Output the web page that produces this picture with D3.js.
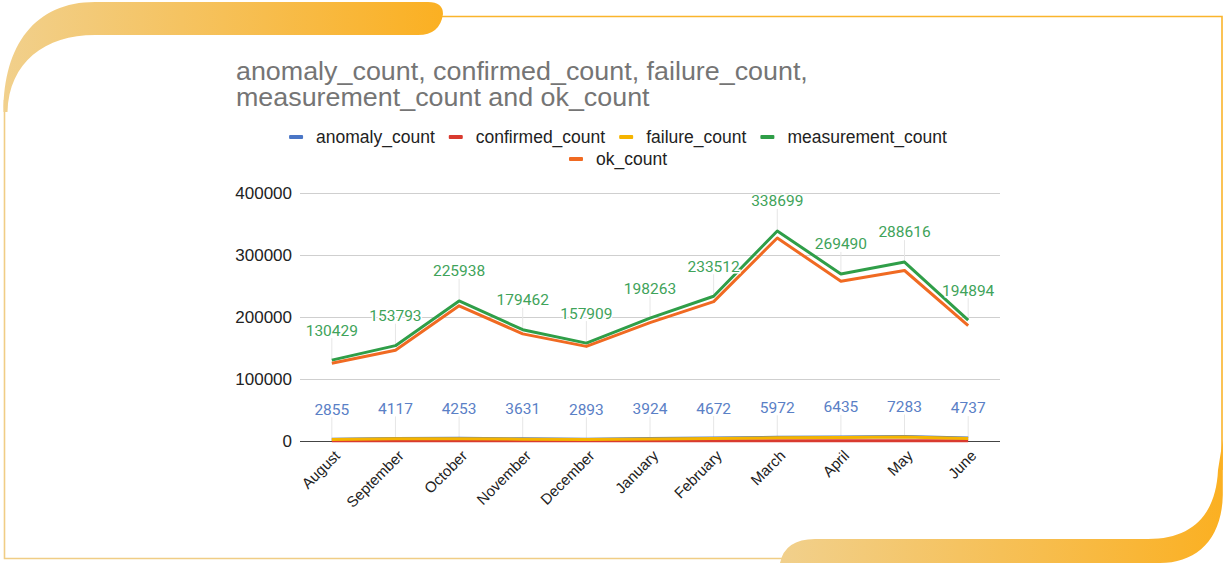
<!DOCTYPE html>
<html>
<head>
<meta charset="utf-8">
<script src="https://cdn.jsdelivr.net/npm/d3@7"></script>
<style>
  html, body { margin: 0; padding: 0; background: #fff; }
  svg { display: block; }
</style>
</head>
<body>
<div id="chart"></div>
<script>
// ===== counts per month, line chart =====

const months = ['August', 'September', 'October', 'November', 'December', 'January',
  'February', 'March', 'April', 'May', 'June'];

const anomalyCount = [2855, 4117, 4253, 3631, 2893, 3924, 4672, 5972, 6435, 7283, 4737];
const confirmedCount = [250, 320, 340, 300, 260, 310, 380, 450, 500, 560, 400];
const failureCount = [2300, 3500, 3600, 3000, 2400, 3300, 4000, 5200, 5600, 6400, 4100];
const measurementCount = [130429, 153793, 225938, 179462, 157909, 198263, 233512, 338699, 269490, 288616, 194894];
const okCount = [125300, 146500, 218000, 172800, 152600, 191000, 224800, 327500, 257500, 275000, 186000];

const seriesNames = ['anomaly_count', 'confirmed_count', 'failure_count', 'measurement_count', 'ok_count'];
const seriesColors = ['#4a76c6', '#d93a2f', '#f5b400', '#2f9e48', '#f06a22'];
const yTicks = [0, 100000, 200000, 300000, 400000];

const titleLines = ['anomaly_count, confirmed_count, failure_count,', 'measurement_count and ok_count'];

const W = 1224, H = 563;
const plot = { left: 300, right: 1000, top: 193, bottom: 441 };
const sansFont = "'Liberation Sans', Arial, sans-serif";
const labelFont = "Roboto, 'Liberation Sans', sans-serif";

const svg = d3.select('#chart').append('svg')
  .attr('width', W)
  .attr('height', H);

// ---- frame decoration ----
const defs = svg.append('defs');
const grad = defs.append('linearGradient')
  .attr('id', 'band-grad').attr('x1', 0).attr('x2', 1).attr('y1', 0).attr('y2', 0);
grad.append('stop').attr('offset', '0%').attr('stop-color', '#f1d08c');
grad.append('stop').attr('offset', '100%').attr('stop-color', '#fbb022');

const frame = svg.append('g').attr('class', 'frame');
// thin border lines
frame.append('path')
  .attr('d', 'M4.5,100 L4.5,558.5 L790,558.5')
  .attr('fill', 'none').attr('stroke', '#f0cd85').attr('stroke-width', 1.6);
frame.append('path')
  .attr('d', 'M440,16.5 L1222,16.5 L1222,470')
  .attr('fill', 'none').attr('stroke', '#fab52c').attr('stroke-width', 1.6);
// top-left band
frame.append('path')
  .attr('d', 'M3.5,112 C3.5,45 35,2 95,2 L428,2 Q443,2 443,14 Q440,35 418,35 L95,35 C45,35 9,62 7.5,112 Z')
  .attr('fill', 'url(#band-grad)');
// bottom-right band
frame.append('path')
  .attr('d', 'M780,563 Q785,539 815,539 L1148,539 C1192,539 1216,515 1218,470 L1222.8,440 L1222.8,495 C1222,540 1196,563 1160,563 Z')
  .attr('fill', 'url(#band-grad)');

// ---- scales ----
const x = d3.scalePoint()
  .domain(months)
  .range([plot.left, plot.right])
  .padding(0.5);

const y = d3.scaleLinear()
  .domain([0, 400000])
  .range([plot.bottom, plot.top]);

// ---- title ----
svg.append('g')
  .attr('transform', 'translate(236,0) scale(1.075,1)')
  .selectAll('text')
  .data(titleLines)
  .join('text')
  .attr('x', 0)
  .attr('y', (d, i) => 80 + i * 26)
  .attr('font-family', sansFont)
  .attr('font-size', 25)
  .attr('fill', '#757575')
  .text(d => d);

// ---- legend ----
function drawLegendRow(items, cy, cx) {
  const row = svg.append('g');
  let pos = 0;
  items.forEach(i => {
    const g = row.append('g').attr('transform', `translate(${pos},0)`);
    g.append('rect')
      .attr('x', 0).attr('y', cy - 2)
      .attr('width', 14).attr('height', 4).attr('rx', 1)
      .attr('fill', seriesColors[i]);
    const t = g.append('text')
      .attr('x', 27).attr('y', cy)
      .attr('dy', '0.35em')
      .attr('font-family', sansFont)
      .attr('font-size', 17.5)
      .attr('fill', '#222')
      .text(seriesNames[i]);
    pos += 27 + t.node().getComputedTextLength() + 14;
  });
  const total = pos - 14;
  row.attr('transform', `translate(${cx - total / 2},0)`);
}
drawLegendRow([0, 1, 2, 3], 137, 618);
drawLegendRow([4], 159, 618);

// ---- y axis with gridlines ----
const yAxis = d3.axisLeft(y)
  .tickValues(yTicks)
  .tickFormat(d3.format('d'))
  .tickSize(-(plot.right - plot.left))
  .tickPadding(8);

const yG = svg.append('g')
  .attr('transform', `translate(${plot.left},0)`)
  .call(yAxis);
yG.select('.domain').remove();
yG.selectAll('.tick line')
  .attr('stroke', d => d === 0 ? '#444' : '#cfcfcf')
  .attr('stroke-width', 1);
yG.selectAll('.tick text')
  .attr('font-family', sansFont)
  .attr('font-size', 17)
  .attr('fill', '#222');

// ---- x axis ----
const xAxis = d3.axisBottom(x).tickSize(0).tickPadding(0);
const xG = svg.append('g')
  .attr('transform', `translate(0,${plot.bottom})`)
  .call(xAxis);
xG.select('.domain').remove();
xG.selectAll('.tick text')
  .attr('font-family', sansFont)
  .attr('font-size', 15)
  .attr('fill', '#222')
  .attr('text-anchor', 'end')
  .attr('transform', 'translate(5,12) rotate(-45)')
  .attr('dy', '0.35em')
  .attr('y', 0);

// ---- annotation stems (faint) ----
const stems = svg.append('g');
function drawStems(values) {
  stems.selectAll(null)
    .data(values)
    .join('line')
    .attr('x1', (d, i) => x(months[i]))
    .attr('x2', (d, i) => x(months[i]))
    .attr('y1', d => y(d))
    .attr('y2', d => y(d) - 22)
    .attr('stroke', '#e6e6e6')
    .attr('stroke-width', 1);
}
drawStems(measurementCount);
drawStems(anomalyCount);

// ---- lines ----
const allSeries = [anomalyCount, confirmedCount, failureCount, measurementCount, okCount];
const line = d3.line()
  .x((d, i) => x(months[i]))
  .y(d => y(d));

svg.append('g')
  .selectAll('path')
  .data(allSeries)
  .join('path')
  .attr('d', d => line(d))
  .attr('fill', 'none')
  .attr('stroke', (d, i) => seriesColors[i])
  .attr('stroke-width', 3)
  .attr('stroke-linejoin', 'round');

// ---- data labels ----
function drawLabels(values, color) {
  svg.append('g')
    .selectAll('text')
    .data(values)
    .join('text')
    .attr('x', (d, i) => x(months[i]))
    .attr('y', d => y(d) - 30)
    .attr('dy', '0.35em')
    .attr('text-anchor', 'middle')
    .attr('font-family', labelFont)
    .attr('font-size', 15.5)
    .attr('fill', color)
    .attr('stroke', '#fff')
    .attr('stroke-width', 3)
    .attr('paint-order', 'stroke')
    .text(d => d);
}
drawLabels(measurementCount, '#3fa35a');
drawLabels(anomalyCount, '#5a80c6');
</script>
</body>
</html>
